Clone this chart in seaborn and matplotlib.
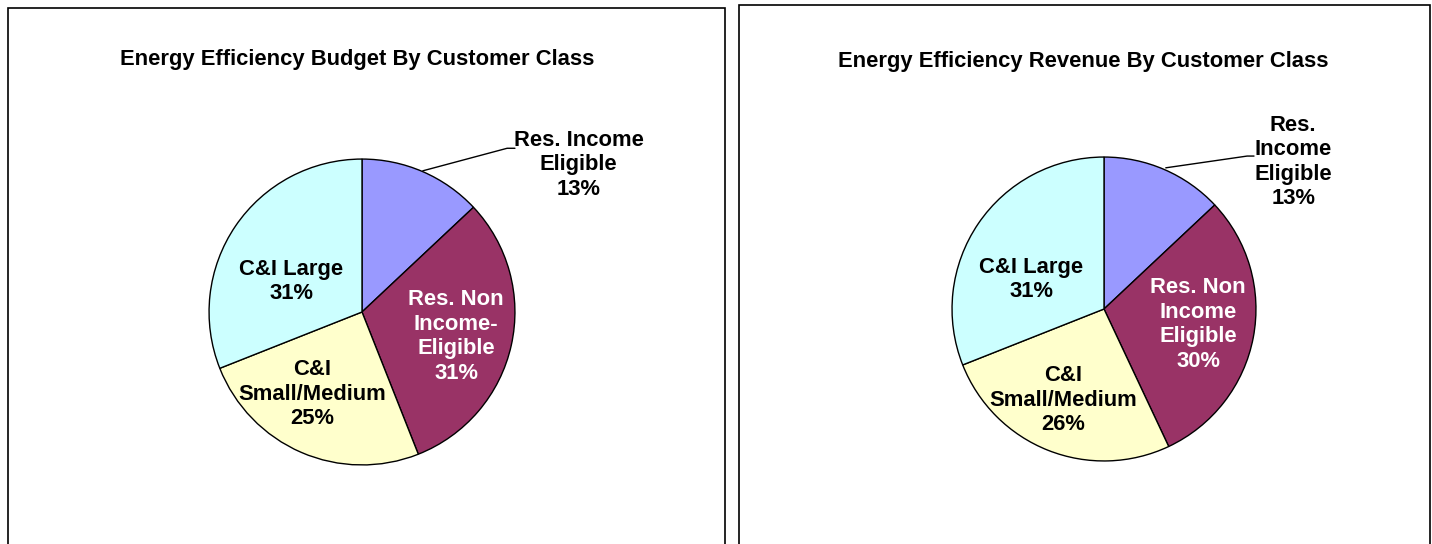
import matplotlib
matplotlib.use("Agg")
import matplotlib.pyplot as plt
import seaborn as sns
from matplotlib.patches import Rectangle

# Data
budget_labels = ["Res. Income\nEligible", "Res. Non\nIncome-\nEligible", "C&I\nSmall/Medium", "C&I Large"]
budget_values = [13, 31, 25, 31]
revenue_labels = ["Res.\nIncome\nEligible", "Res. Non\nIncome\nEligible", "C&I\nSmall/Medium", "C&I Large"]
revenue_values = [13, 30, 26, 31]
slice_colors = ["#9999FF", "#993366", "#FFFFCC", "#CCFFFF"]
text_colors = ["black", "white", "black", "black"]

sns.set_style("white")
plt.rcParams["font.family"] = ["Liberation Sans", "DejaVu Sans"]
plt.rcParams["text.color"] = "black"

W, H = 1432, 544
fig = plt.figure(figsize=(W / 100, H / 100), dpi=100)


def pie_axes(cx, cy, r):
    return fig.add_axes([(cx - r) / W, (H - cy - r) / H, 2 * r / W, 2 * r / H])


def frame(x0, x1, top):
    fig.patches.append(Rectangle((x0 / W, -0.05), (x1 - x0) / W, 1.05 - top / H,
                                 transform=fig.transFigure, fill=False,
                                 edgecolor="black", linewidth=1.2))


def draw_pie(ax, values, labels, label_pos, outer_line):
    wedges, _ = ax.pie(values, colors=slice_colors, startangle=90, counterclock=False,
                       radius=1, wedgeprops=dict(edgecolor="black", linewidth=1.0))
    ax.set_xlim(-1.02, 1.02)
    ax.set_ylim(-1.02, 1.02)
    ax.set_aspect("equal")
    ax.axis("off")
    for lab, val, pos, col in zip(labels, values, label_pos, text_colors):
        ax.text(pos[0], pos[1], f"{lab}\n{val}%", ha="center", va="center",
                fontsize=15.8, fontweight="bold", color=col, linespacing=1.22,
                clip_on=False)
    xs, ys = outer_line
    ax.plot(xs, ys, color="black", linewidth=1.0, clip_on=False)


frame(8, 725, 8)
frame(739, 1430, 5)

fig.text(357 / W, 1 - 59 / H, "Energy Efficiency Budget By Customer Class",
         ha="center", va="center", fontsize=15.8, fontweight="bold", color="black")
fig.text(1083 / W, 1 - 62 / H, "Energy Efficiency Revenue By Customer Class",
         ha="center", va="center", fontsize=15.8, fontweight="bold", color="black")

# left pie: center (362, 312), radius 156 px
r1 = 156
ax1 = pie_axes(362, 312, r1)
pos1 = [((583 - 362) / r1, (312 - 162) / r1),
        ((458 - 362) / r1, (312 - 337) / r1),
        ((311 - 362) / r1, (312 - 396) / r1),
        ((290 - 362) / r1, (312 - 281) / r1)]
line1 = ([(424 - 362) / r1, (510 - 362) / r1, (518 - 362) / r1],
         [(312 - 168) / r1, (312 - 145) / r1, (312 - 145) / r1])
draw_pie(ax1, budget_values, budget_labels, pos1, line1)

# right pie: center (1104, 309), radius 155 px
r2 = 155
ax2 = pie_axes(1104, 309, r2)
pos2 = [((1297 - 1104) / r2, (309 - 159) / r2),
        ((1200 - 1104) / r2, (309 - 325) / r2),
        ((1062 - 1104) / r2, (309 - 402) / r2),
        ((1030 - 1104) / r2, (309 - 279) / r2)]
line2 = ([(1167 - 1104) / r2, (1250 - 1104) / r2, (1257 - 1104) / r2],
         [(309 - 165) / r2, (309 - 153) / r2, (309 - 153) / r2])
draw_pie(ax2, revenue_values, revenue_labels, pos2, line2)

fig.savefig("out.png", dpi=100)
